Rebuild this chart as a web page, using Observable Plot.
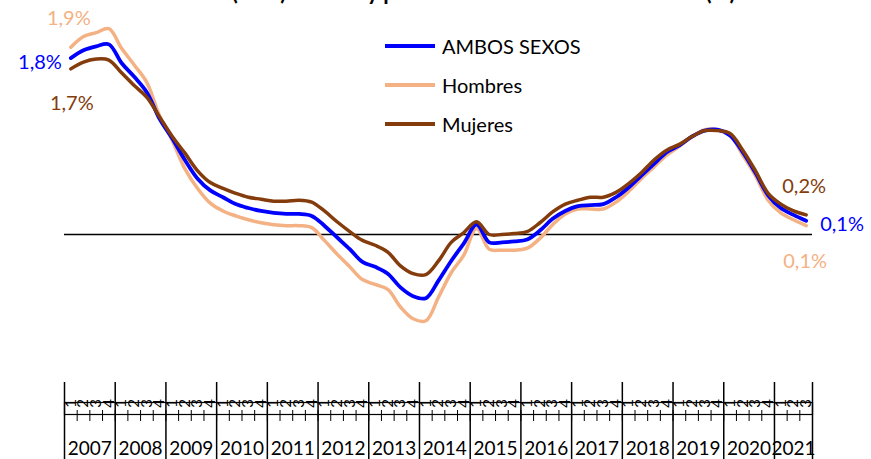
<!DOCTYPE html>
<html><head><meta charset="utf-8">
<script src="https://cdn.jsdelivr.net/npm/d3@7"></script>
<script src="https://cdn.jsdelivr.net/npm/@observablehq/plot@0.6"></script>
<style>
body{margin:0;background:#fff;font-family:Lato,"Open Sans",sans-serif;}
#wrap{position:relative;width:871px;height:459px;overflow:hidden;}
#legend{position:absolute;left:385px;top:26px;font-size:20px;color:#000;}
.item{display:flex;align-items:center;height:39px;}
.sw{width:50px;height:4px;margin-right:7px;}
</style></head><body>
<div id="wrap"><div id="chart"></div><div id="legend"></div></div>
<script>
const title = "Afiliados (TVA) medios y por sexo. Tasa de variación anual (%)";
const years = ["2007","2008","2009","2010","2011","2012","2013","2014","2015","2016","2017","2018","2019","2020","2021"];
const quarterNames = ["1","2","3","4"];
const seriesNames = ["AMBOS SEXOS","Hombres","Mujeres"];
const colors = ["#0000FF","#F4B183","#843C0C"];

const ambos = [1.80,1.88,1.92,1.94,1.75,1.61,1.45,1.18,0.98,0.76,
  0.57,0.45,0.38,0.31,0.27,0.24,0.22,0.21,0.21,0.19,
  0.09,-0.03,-0.15,-0.28,-0.33,-0.40,-0.54,-0.63,-0.65,-0.47,
  -0.27,-0.09,0.10,-0.08,-0.08,-0.07,-0.05,0.04,0.16,0.24,
  0.29,0.30,0.31,0.38,0.48,0.60,0.72,0.84,0.91,1.00,
  1.06,1.07,1.01,0.84,0.63,0.40,0.27,0.20,0.14];
const hombres = [1.91,2.02,2.06,2.10,1.90,1.73,1.55,1.21,0.96,0.67,
  0.47,0.32,0.24,0.19,0.15,0.12,0.10,0.09,0.09,0.07,
  -0.06,-0.20,-0.33,-0.46,-0.51,-0.56,-0.74,-0.86,-0.88,-0.64,
  -0.39,-0.21,0.06,-0.15,-0.16,-0.16,-0.14,-0.04,0.10,0.21,
  0.26,0.26,0.26,0.33,0.44,0.57,0.69,0.81,0.90,1.00,
  1.07,1.07,1.01,0.81,0.60,0.35,0.22,0.15,0.09];
const mujeres = [1.69,1.76,1.79,1.78,1.65,1.52,1.40,1.20,1.00,0.83,
  0.65,0.53,0.47,0.42,0.38,0.36,0.34,0.34,0.35,0.33,
  0.24,0.13,0.03,-0.06,-0.11,-0.18,-0.32,-0.40,-0.41,-0.27,
  -0.08,0.02,0.13,0.00,0.00,0.01,0.03,0.12,0.23,0.31,
  0.35,0.38,0.38,0.43,0.52,0.63,0.76,0.86,0.92,1.00,
  1.06,1.06,1.03,0.86,0.65,0.42,0.31,0.24,0.20];

const N = ambos.length;
const idx = d3.range(N);
const xc = i => i + 0.5;
const fmt = v => d3.format(".1f")(v).replace(".", ",") + "%";
const yearStart = years.map((y, k) => k * 4);
const yearBounds = yearStart.concat([N]);
const yearMid = k => (k * 4 + Math.min(k * 4 + 4, N)) / 2;

const H = 459;
const lineOf = (arr, c, w) => Plot.line(idx, {x: xc, y: i => arr[i], stroke: c, strokeWidth: w, curve: "catmull-rom", strokeLinejoin: "round"});
const lab = (arr, i, c, opts) => Plot.text([i], {x: xc, y: j => arr[j], text: j => fmt(arr[j]), fill: c, fontSize: 20, ...opts});

const chart = Plot.plot({
  width: 871, height: H,
  marginLeft: 64, marginRight: 59, marginTop: 0, marginBottom: 0,
  x: {type: "linear", domain: [0, N], axis: null},
  y: {type: "linear", domain: [-1, 2], range: [332, 38], axis: null},
  style: {fontFamily: "Lato, 'Open Sans', sans-serif", background: "white", color: "#000"},
  marks: [
    Plot.ruleY([0], {stroke: "#000", strokeWidth: 1.5}),
    lineOf(hombres, colors[1], 3.5),
    lineOf(ambos, colors[0], 3.8),
    lineOf(mujeres, colors[2], 3.5),
    lab(hombres, 0, colors[1], {dy: -29, dx: -2}),
    lab(ambos, 0, colors[0], {dx: -9, dy: 4, textAnchor: "end"}),
    lab(mujeres, 0, colors[2], {dy: 35, dx: 1}),
    lab(mujeres, N - 1, colors[2], {dy: -28, dx: -2}),
    lab(ambos, N - 1, colors[0], {dx: 14, dy: 4, textAnchor: "start"}),
    lab(hombres, N - 1, colors[1], {dy: 36, dx: -1}),
    // category axis
    Plot.frame({insetTop: 402, insetBottom: H - 414, stroke: "#000", strokeWidth: 1.2}),
    Plot.ruleX(yearBounds, {x: d => d, insetTop: 382, stroke: "#000", strokeWidth: 1.5}),
    Plot.ruleX(d3.range(N + 1), {x: d => d, insetTop: 410, insetBottom: H - 421, stroke: "#000", strokeWidth: 1}),
    Plot.text(idx, {x: xc, text: i => quarterNames[i % 4], rotate: -90, frameAnchor: "bottom", dy: -56, lineAnchor: "middle", fontSize: 15, fill: "#000"}),
    Plot.text(years, {x: (d, k) => yearMid(k), text: d => d, frameAnchor: "bottom", dy: -11, lineAnchor: "middle", fontSize: 19, fill: "#000"}),
    Plot.text([title], {frameAnchor: "top", lineAnchor: "bottom", dy: -1, fontSize: 22, fontWeight: "bold", fill: "#000"})
  ]
});
document.getElementById("chart").appendChild(chart);

const leg = document.getElementById("legend");
seriesNames.forEach((n, k) => {
  const it = document.createElement("div"); it.className = "item";
  const sw = document.createElement("span"); sw.className = "sw"; sw.style.background = colors[k];
  const t = document.createElement("span"); t.textContent = n;
  it.appendChild(sw); it.appendChild(t); leg.appendChild(it);
});
</script>
</body></html>
